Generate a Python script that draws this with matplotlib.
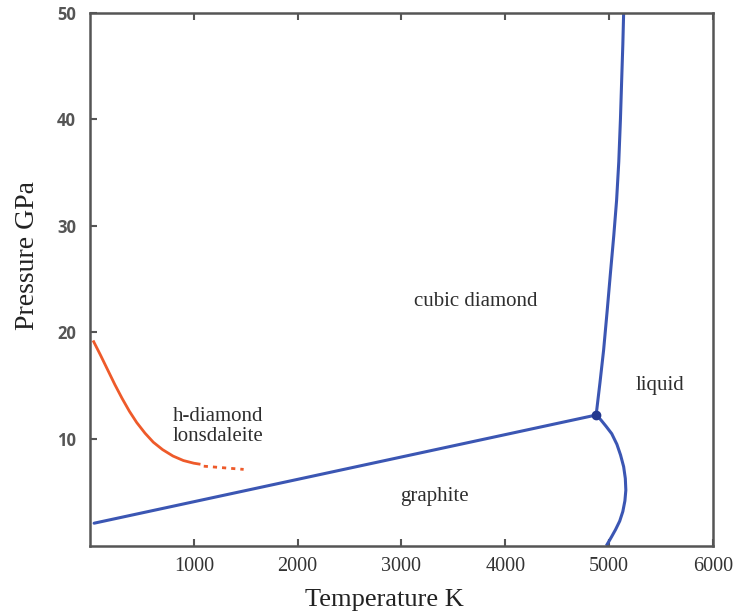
import matplotlib
matplotlib.use("Agg")
import matplotlib.pyplot as plt

# ---- data (T in K, P in GPa) ----
graphite_diamond_T = [40, 4875]
graphite_diamond_P = [2.1, 12.25]

diamond_melt_T = [4875, 4912, 4947, 4981, 5013, 5045, 5072, 5093, 5109, 5122, 5132, 5140]
diamond_melt_P = [12.25, 15.3, 18.35, 22.0, 25.6, 29.1, 32.4, 36.0, 40.0, 44.0, 47.0, 50.0]

graphite_melt_T = [4875, 4920, 4970, 5025, 5075, 5110, 5140, 5156, 5161, 5152, 5132, 5102, 5062, 5022, 4980]
graphite_melt_P = [12.25, 11.8, 11.2, 10.5, 9.5, 8.5, 7.4, 6.3, 5.2, 4.2, 3.2, 2.3, 1.5, 0.8, 0.1]

hdiamond_T = [36, 100, 170, 240, 310, 380, 450, 530, 610, 700, 800, 900, 1000, 1051]
hdiamond_P = [19.13, 17.9, 16.5, 15.1, 13.8, 12.6, 11.55, 10.55, 9.7, 9.0, 8.4, 7.98, 7.73, 7.65]

hdiamond_ext_T = [1096, 1480]
hdiamond_ext_P = [7.45, 7.15]

triple_T = [4875]
triple_P = [12.25]

x_ticks = [1000, 2000, 3000, 4000, 5000, 6000]
y_ticks = [10, 20, 30, 40, 50]

region_labels = ["cubic diamond", "liquid", "h-diamond\nlonsdaleite", "graphite"]
region_T = [3720, 5490, 1230, 3322]
region_P = [22.9, 15.05, 11.2, 4.6]

# ---- figure ----
fig = plt.figure(figsize=(7.35, 6.16), dpi=100)
ax = fig.add_axes([0.1224, 0.1143, 0.8476, 0.8651])

blue = "#3b56b3"
orange = "#ee5a2a"

ax.plot(graphite_diamond_T, graphite_diamond_P, color=blue, lw=2.2, solid_capstyle="round")
ax.plot(diamond_melt_T, diamond_melt_P, color=blue, lw=2.2, solid_joinstyle="round")
ax.plot(graphite_melt_T, graphite_melt_P, color=blue, lw=2.2, solid_joinstyle="round")
ax.plot(hdiamond_T, hdiamond_P, color=orange, lw=2.0, solid_joinstyle="round")
ax.plot(hdiamond_ext_T, hdiamond_ext_P, color=orange, lw=2.0, linestyle=(0, (1.5, 1.8)))
ax.plot(triple_T, triple_P, "o", color="#24398f", ms=6)

ax.set_xlim(0, 6000)
ax.set_ylim(0, 50)

serif = ["Liberation Serif", "DejaVu Serif"]
for lab, t, p in zip(region_labels, region_T, region_P):
    ax.text(t, p, lab, ha="center", va="center", family=serif, fontsize=15,
            color="#2e2e2e", linespacing=1.1)

ax.set_xticks(x_ticks)
ax.set_xticklabels([str(v) for v in x_ticks], family=serif, fontsize=14.5, color="#333333")
ax.set_yticks(y_ticks)
ax.set_yticklabels([str(v) for v in y_ticks], family=["Open Sans", "DejaVu Sans"],
                   fontsize=12, fontweight="bold", color="#555555")

ax.tick_params(axis="x", direction="in", length=5, width=1.5, color="#555555", pad=8, top=True)
ax.tick_params(axis="y", direction="in", length=5, width=1.5, color="#555555", pad=10, right=False)

for s in ax.spines.values():
    s.set_linewidth(1.8)
    s.set_color("#555555")

ax.set_xlabel("Temperature K", family=serif, fontsize=19, color="#222222")
ax.set_ylabel("Pressure GPa", family=serif, fontsize=20, color="#222222")
ax.xaxis.set_label_coords(0.473, -0.102)
ax.yaxis.set_label_coords(-0.0995, 0.545)
ax.xaxis.label.set_va("center")
ax.yaxis.label.set_va("center")

fig.savefig("out.png", dpi=100)
